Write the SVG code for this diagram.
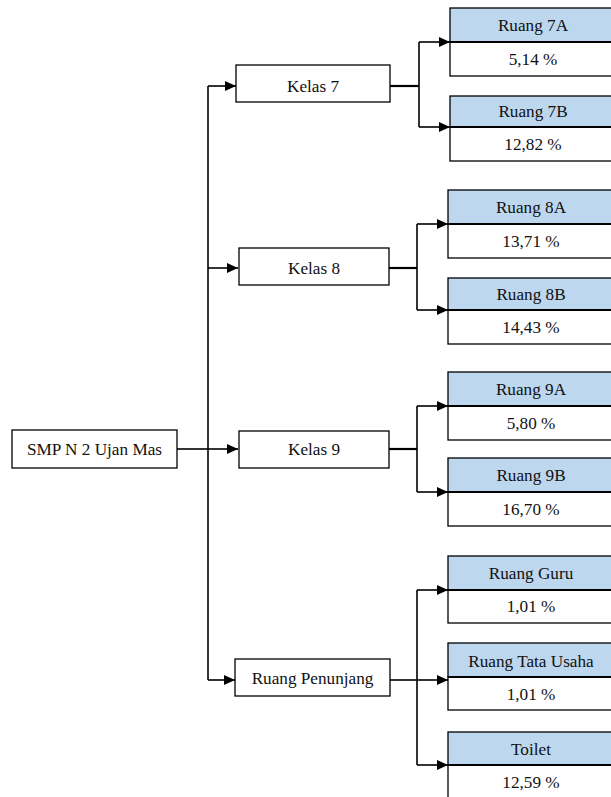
<svg xmlns="http://www.w3.org/2000/svg" width="611" height="797" viewBox="0 0 611 797">
<style>
.box{fill:#fff;stroke:#000;stroke-width:1.3}
.hdr{fill:#BDD7EE;stroke:#000;stroke-width:1.3}
.sep{stroke:#000;stroke-width:2}
.t{font-family:'Liberation Serif','Times New Roman','DejaVu Serif',serif;font-size:17.2px;fill:#111;text-anchor:middle}
.con{fill:none;stroke:#000;stroke-width:1.6}
.thk{stroke-width:2.2}
</style>
<defs>
<marker id="ah" markerUnits="userSpaceOnUse" markerWidth="12" markerHeight="10" refX="11" refY="5" orient="auto">
<path d="M0,0 L11,5 L0,10 Z" fill="#000"/>
</marker>
</defs>
<rect width="611" height="797" fill="#fff"/>
<g id="connectors">
<path class="con" d="M177,449 H208"/>
<path class="con" d="M208,449 H238" marker-end="url(#ah)"/>
<path class="con" d="M208,86 V680"/>
<path class="con" d="M208,86 H236" marker-end="url(#ah)"/>
<path class="con" d="M208,268 H238" marker-end="url(#ah)"/>
<path class="con" d="M208,680 H235" marker-end="url(#ah)"/>
<path class="con thk" d="M390,86 H419"/>
<path class="con" d="M419,42 V127"/>
<path class="con" d="M419,42 H450" marker-end="url(#ah)"/>
<path class="con" d="M419,127 H450" marker-end="url(#ah)"/>
<path class="con thk" d="M389,268 H417"/>
<path class="con" d="M417,224 V310"/>
<path class="con" d="M417,224 H448" marker-end="url(#ah)"/>
<path class="con" d="M417,310 H448" marker-end="url(#ah)"/>
<path class="con thk" d="M389,449 H417"/>
<path class="con" d="M417,406 V492"/>
<path class="con" d="M417,406 H448" marker-end="url(#ah)"/>
<path class="con" d="M417,492 H448" marker-end="url(#ah)"/>
<path class="con" d="M390,680 H417"/>
<path class="con" d="M417,590 V765"/>
<path class="con" d="M417,590 H448" marker-end="url(#ah)"/>
<path class="con" d="M417,680 H448" marker-end="url(#ah)"/>
<path class="con" d="M417,765 H448" marker-end="url(#ah)"/>
</g>
<g id="root">
<rect class="box" x="12" y="430" width="165" height="38"/>
<text class="t" x="94.5" y="455">SMP N 2 Ujan Mas</text>
</g>
<g id="kelas7">
<rect class="box" x="236" y="65" width="154" height="37"/>
<text class="t" x="313" y="92">Kelas 7</text>
</g>
<g id="kelas8">
<rect class="box" x="239" y="248" width="150" height="37"/>
<text class="t" x="314" y="274">Kelas 8</text>
</g>
<g id="kelas9">
<rect class="box" x="239" y="431" width="150" height="37"/>
<text class="t" x="314" y="455">Kelas 9</text>
</g>
<g id="penunjang">
<rect class="box" x="235" y="659" width="155" height="37"/>
<text class="t" x="312.5" y="684">Ruang Penunjang</text>
</g>
<g id="ruang7a">
<rect class="hdr" x="450" y="8" width="170" height="34"/>
<rect class="box" x="450" y="42" width="170" height="34"/>
<line class="sep" x1="450" y1="42" x2="620" y2="42"/>
<text class="t" x="533" y="31">Ruang 7A</text>
<text class="t" x="533" y="65">5,14 %</text>
</g>
<g id="ruang7b">
<rect class="hdr" x="450" y="96" width="170" height="31"/>
<rect class="box" x="450" y="127" width="170" height="34"/>
<line class="sep" x1="450" y1="127" x2="620" y2="127"/>
<text class="t" x="533" y="117">Ruang 7B</text>
<text class="t" x="533" y="150">12,82 %</text>
</g>
<g id="ruang8a">
<rect class="hdr" x="448" y="190" width="172" height="34"/>
<rect class="box" x="448" y="224" width="172" height="34"/>
<line class="sep" x1="448" y1="224" x2="620" y2="224"/>
<text class="t" x="531" y="213">Ruang 8A</text>
<text class="t" x="531" y="247">13,71 %</text>
</g>
<g id="ruang8b">
<rect class="hdr" x="448" y="278" width="172" height="32"/>
<rect class="box" x="448" y="310" width="172" height="34"/>
<line class="sep" x1="448" y1="310" x2="620" y2="310"/>
<text class="t" x="531" y="300">Ruang 8B</text>
<text class="t" x="531" y="333">14,43 %</text>
</g>
<g id="ruang9a">
<rect class="hdr" x="448" y="372" width="172" height="34"/>
<rect class="box" x="448" y="406" width="172" height="34"/>
<line class="sep" x1="448" y1="406" x2="620" y2="406"/>
<text class="t" x="531" y="395">Ruang 9A</text>
<text class="t" x="531" y="429">5,80 %</text>
</g>
<g id="ruang9b">
<rect class="hdr" x="448" y="458" width="172" height="34"/>
<rect class="box" x="448" y="492" width="172" height="34"/>
<line class="sep" x1="448" y1="492" x2="620" y2="492"/>
<text class="t" x="531" y="481">Ruang 9B</text>
<text class="t" x="531" y="515">16,70 %</text>
</g>
<g id="ruangguru">
<rect class="hdr" x="448" y="556" width="172" height="34"/>
<rect class="box" x="448" y="590" width="172" height="33"/>
<line class="sep" x1="448" y1="590" x2="620" y2="590"/>
<text class="t" x="531" y="579">Ruang Guru</text>
<text class="t" x="531" y="612">1,01 %</text>
</g>
<g id="ruangtu">
<rect class="hdr" x="448" y="643" width="172" height="34"/>
<rect class="box" x="448" y="677" width="172" height="33"/>
<line class="sep" x1="448" y1="677" x2="620" y2="677"/>
<text class="t" x="531" y="667">Ruang Tata Usaha</text>
<text class="t" x="531" y="700">1,01 %</text>
</g>
<g id="toilet">
<rect class="hdr" x="448" y="732" width="172" height="33"/>
<rect class="box" x="448" y="765" width="172" height="40"/>
<line class="sep" x1="448" y1="765" x2="620" y2="765"/>
<text class="t" x="531" y="755">Toilet</text>
<text class="t" x="531" y="788">12,59 %</text>
</g>
</svg>
